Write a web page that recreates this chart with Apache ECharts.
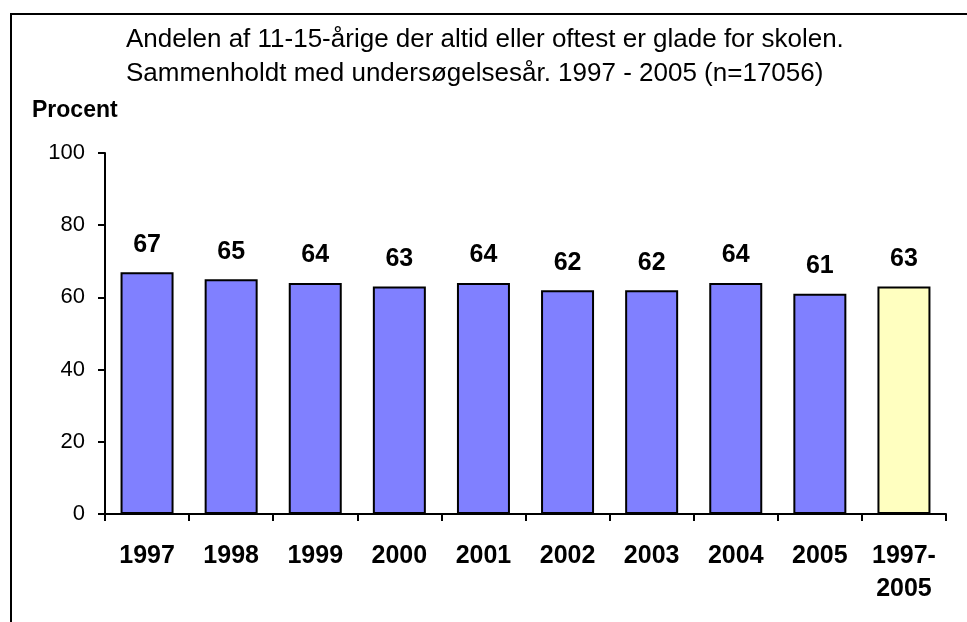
<!DOCTYPE html>
<html>
<head>
<meta charset="utf-8">
<script src="https://cdn.jsdelivr.net/npm/echarts@6/dist/echarts.min.js"></script>
<style>html,body{margin:0;padding:0;background:#fff}#c{width:967px;height:622px}</style>
</head>
<body>
<div id="c"></div>
<script>
const categories = ['1997','1998','1999','2000','2001','2002','2003','2004','2005','1997-\n2005'];
const values = [67,65,64,63,64,62,62,64,61,63];
const barColors = ['#8080FF','#8080FF','#8080FF','#8080FF','#8080FF','#8080FF','#8080FF','#8080FF','#8080FF','#FFFFC0'];
const yTicks = {min:0, max:100, interval:20};
const titleLines = ['Andelen af 11-15-årige der altid eller oftest er glade for skolen.','Sammenholdt med undersøgelsesår. 1997 - 2005 (n=17056)'];
const yName = 'Procent';

const chart = echarts.init(document.getElementById('c'), null, {renderer:'canvas'});
const F = 'Arial, "Liberation Sans", sans-serif';
chart.setOption({
  animation:false,
  backgroundColor:'#fff',
  title:{
    text: titleLines.join('\n'),
    left: 121, top: 18, textAlign:'left',
    textStyle:{fontFamily:F, fontSize:26, fontWeight:'normal', color:'#000', lineHeight:34}
  },
  graphic:[
    {type:'line', shape:{x1:11,y1:14,x2:11,y2:622}, style:{stroke:'#000', lineWidth:2}},
    {type:'line', shape:{x1:10,y1:14,x2:967,y2:14}, style:{stroke:'#000', lineWidth:2}},
    {type:'text', left:32, top:99, style:{text:yName, font:'bold 23px Arial, "Liberation Sans", sans-serif', fill:'#000'}}
  ],
  grid:{left:105, right:21, top:153, bottom:108, containLabel:false},
  xAxis:{
    type:'category', data:categories,
    axisLine:{lineStyle:{color:'#000', width:2}},
    axisTick:{show:true, length:7, lineStyle:{color:'#000', width:2}},
    axisLabel:{fontFamily:F, fontSize:25, fontWeight:'bold', color:'#000', margin:26, lineHeight:33, interval:0}
  },
  yAxis:{
    type:'value', min:yTicks.min, max:yTicks.max, interval:yTicks.interval,
    axisLine:{show:true, lineStyle:{color:'#000', width:2}},
    axisTick:{show:true, length:7, lineStyle:{color:'#000', width:2}},
    splitLine:{show:false},
    axisLabel:{fontFamily:F, fontSize:22, color:'#000', margin:20}
  },
  series:[{
    type:'bar',
    data: values.map((v,i)=>({value:v, itemStyle:{color:barColors[i]}})),
    barWidth:53,
    itemStyle:{borderColor:'#000', borderWidth:2},
    label:{show:true, position:'top', distance:15, fontFamily:F, fontSize:25, fontWeight:'bold', color:'#000'}
  }]
});
</script>
</body>
</html>
